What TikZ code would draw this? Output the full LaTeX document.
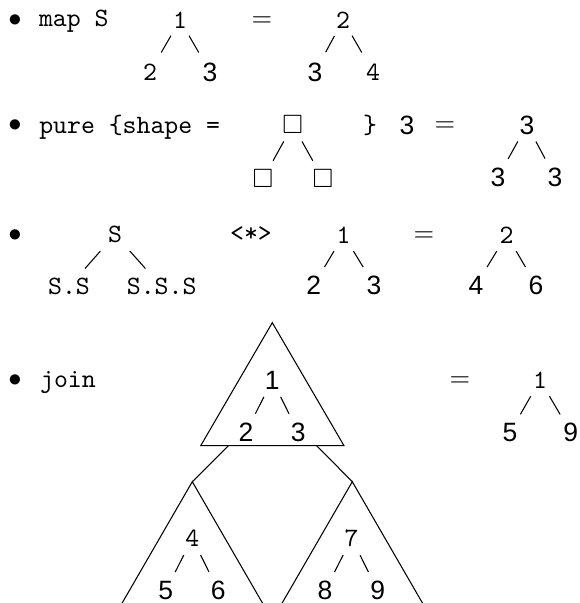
\documentclass[tikz,border=0pt]{standalone}
\usepackage{amssymb}
\usepackage{fontspec}
\newfontfamily\digsans{Liberation Sans}
\begin{document}
\begin{tikzpicture}[x=0.3774pt,y=-0.3774pt,
  tx/.style={font=\ttfamily, inner sep=0pt},
  sx/.style={font=\digsans, inner sep=0pt},
  mx/.style={inner sep=0pt},
  sq/.style={inner sep=0pt},
  br/.style={line width=0.4pt, shorten <=7.1pt, shorten >=7.9pt},
  br1/.style={line width=0.4pt, shorten <=6.8pt, shorten >=8.5pt},
  brS/.style={line width=0.4pt, shorten <=8.4pt, shorten >=9.2pt},
  tri/.style={line width=0.4pt, line join=miter}]
\useasboundingbox (0,0) rectangle (580,603);

% ---------- row 1
\node[mx, anchor=base] (b1) at (15,26.6) {$\bullet$};
\node[tx, anchor=base] (map) at (73.8,26.7) {map S};
\node[tx] (r1p) at (180,20) {1};
\node[tx] (r1a) at (150,72) {2};
\node[sx] (r1b) at (210,72) {3};
\draw[br1] (r1p.center) -- (r1a.center);
\draw[br1] (r1p.center) -- (r1b.center);
\node[mx, anchor=base] (e1) at (262,26.6) {$=$};
\node[tx] (s1p) at (343,20) {2};
\node[sx] (s1a) at (315,72) {3};
\node[tx] (s1b) at (373,72) {4};
\draw[br1] (s1p.center) -- (s1a.center);
\draw[br1] (s1p.center) -- (s1b.center);

% ---------- row 2
\node[mx, anchor=base] (b2) at (15,131.6) {$\bullet$};
\node[tx, anchor=base] (pure) at (129.7,133.3) {pure \{shape =};
\node[sq] (q0) at (292.8,125) {$\square$};
\node[sq] (q1) at (263,179) {$\square$};
\node[sq] (q2) at (323,179) {$\square$};
\draw[br] (q0.center) -- (q1.center);
\draw[br] (q0.center) -- (q2.center);
\node[tx, anchor=base] (rb) at (370,133.3) {\}};
\node[sx] (n3) at (407,125) {3};
\node[mx, anchor=base] (e2) at (445,131.6) {$=$};
\node[sx] (p0) at (527,125) {3};
\node[sx] (p1) at (498,177) {3};
\node[sx] (p2) at (555,177) {3};
\draw[br] (p0.center) -- (p1.center);
\draw[br] (p0.center) -- (p2.center);

% ---------- row 3
\node[mx, anchor=base] (b3) at (15,241.6) {$\bullet$};
\node[tx] (S0) at (115,234.5) {S};
\node[tx] (S1) at (69,286.7) {S.S};
\node[tx] (S2) at (161.7,286.7) {S.S.S};
\draw[brS] (S0.center) -- (S1.center);
\draw[brS] (S0.center) -- (S2.center);
\node[tx, anchor=base] (ap) at (251,241.7) {<*>};
\node[tx] (a0) at (343.7,235) {1};
\node[sx] (a1) at (313.7,285) {2};
\node[sx] (a2) at (374,285) {3};
\draw[br] (a0.center) -- (a1.center);
\draw[br] (a0.center) -- (a2.center);
\node[mx, anchor=base] (e3) at (424,241.6) {$=$};
\node[tx] (c0) at (506.7,235) {2};
\node[sx] (c1) at (476,285) {4};
\node[sx] (c2) at (536,285) {6};
\draw[br] (c0.center) -- (c1.center);
\draw[br] (c0.center) -- (c2.center);

% ---------- row 4
\node[mx, anchor=base] (b4) at (15,386.6) {$\bullet$};
\node[tx, anchor=base] (join) at (68,387) {join};
\coordinate (T) at (272.3,322.7);
\coordinate (TL) at (200.7,445.7);
\coordinate (TR) at (344,445.7);
\draw[tri] (T) -- (TL) -- (TR) -- cycle;
\node[sx] (m0) at (272.3,380) {1};
\node[sx] (m1) at (246,432.5) {2};
\node[sx] (m2) at (298.3,432.5) {3};
\draw[br] (m0.center) -- (m1.center);
\draw[br] (m0.center) -- (m2.center);
\node[mx, anchor=base] (e4) at (460,386.6) {$=$};
\node[tx] (f0) at (540,380) {1};
\node[sx] (f1) at (510,432.5) {5};
\node[sx] (f2) at (570.7,432.5) {9};
\draw[br] (f0.center) -- (f1.center);
\draw[br] (f0.center) -- (f2.center);

\coordinate (jl) at (228.3,445.7);
\coordinate (jr) at (316.7,445.7);
\coordinate (UL) at (192.3,481.7);
\coordinate (UR) at (352.3,481.7);
\draw[tri] (jl) -- (UL);
\draw[tri] (jr) -- (UR);
\coordinate (ULa) at (121,605);
\coordinate (ULb) at (263.6,605);
\coordinate (URa) at (281,605);
\coordinate (URb) at (423.6,605);
\begin{scope}
\clip (0,0) rectangle (580,603);
\draw[tri] (UL) -- (ULa) -- (ULb) -- cycle;
\draw[tri] (UR) -- (URa) -- (URb) -- cycle;
\end{scope}
\node[tx] (g0) at (192.3,538.3) {4};
\node[sx] (g1) at (165.7,590.7) {5};
\node[sx] (g2) at (218.3,590.7) {6};
\draw[br] (g0.center) -- (g1.center);
\draw[br] (g0.center) -- (g2.center);
\node[tx] (h0) at (351.7,538.3) {7};
\node[sx] (h1) at (325,590.7) {8};
\node[sx] (h2) at (377.7,590.7) {9};
\draw[br] (h0.center) -- (h1.center);
\draw[br] (h0.center) -- (h2.center);
\end{tikzpicture}
\end{document}
